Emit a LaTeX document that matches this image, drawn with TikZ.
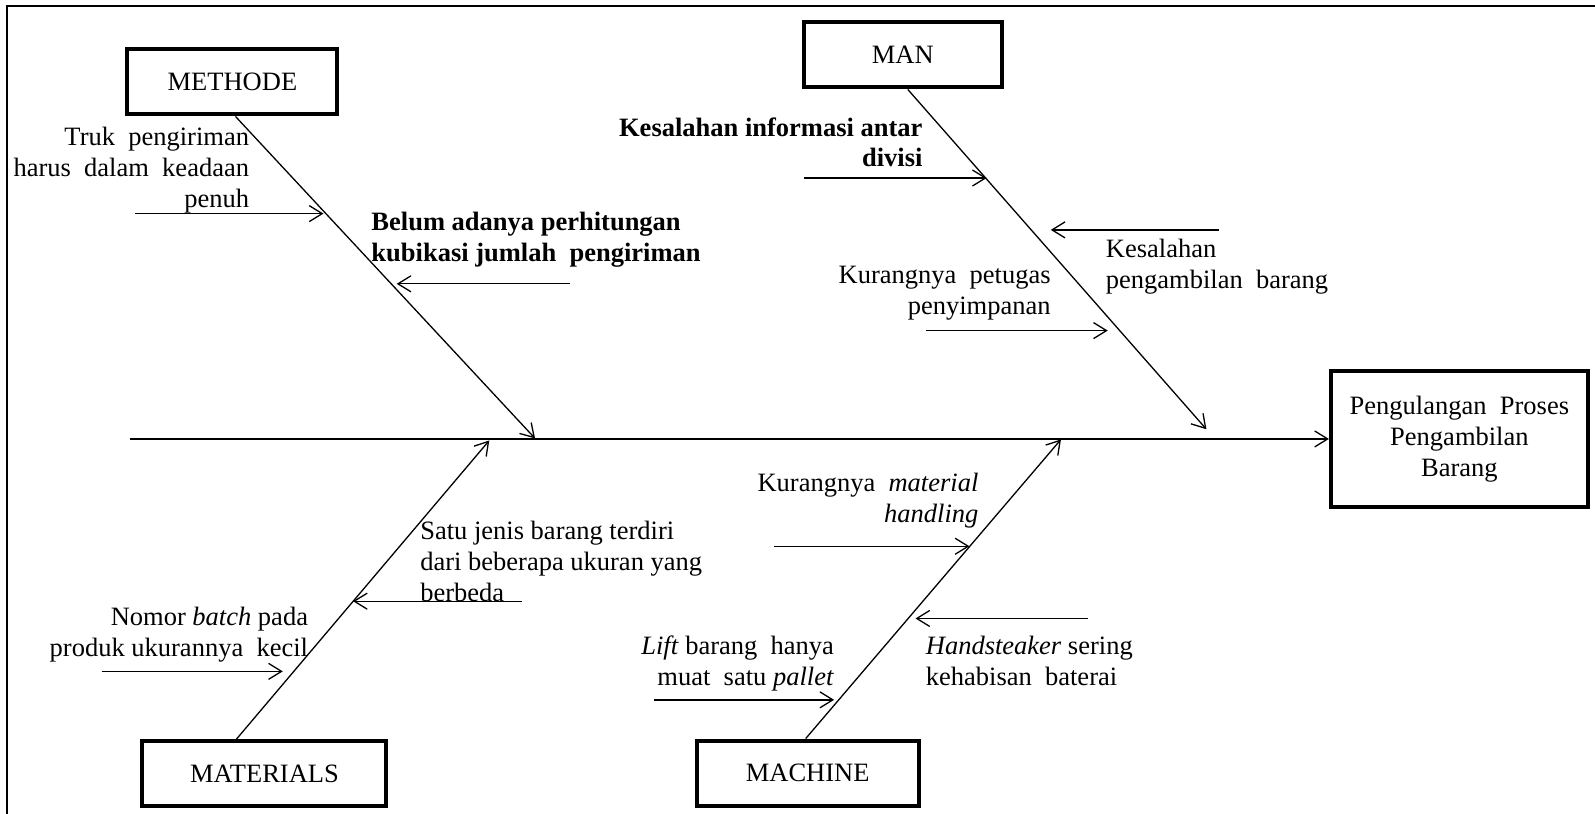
\documentclass[tikz,border=0pt]{standalone}
\usepackage{fontspec}
\setmainfont{Liberation Serif}
\usetikzlibrary{arrows.meta}
\begin{document}
\begin{tikzpicture}[x=1.0172pt,y=-1.0172pt,
  every node/.style={font=\fontsize{26.5}{31}\selectfont},
  catbox/.style={draw, line width=4pt, minimum width=#1, minimum height=65pt, inner sep=0pt},
  effbox/.style={draw, line width=4pt, minimum width=257pt, minimum height=136pt, align=center, inner sep=0pt},
  txt/.style={inner sep=0pt},
  boldtxt/.style={inner sep=0pt, font=\fontsize{26.5}{30.5}\selectfont\bfseries},
  bone/.style={line width=1.3pt, -{Straight Barb[length=13pt,width=16pt,line width=1.3pt]}},
  frameline/.style={line width=2.2pt}
]
\useasboundingbox (0,0) rectangle (1568,800);

% outer frame (top and left edges)
\coordinate (fa) at (7,800);
\coordinate (fb) at (7,6);
\coordinate (fc) at (1568,6);
\draw[frameline] (fa) -- (fb) -- (fc);

% category boxes and effect box
\node[catbox=210pt] (met) at (228.5,80.5) {METHODE};
\node[catbox=198pt] (man) at (887.5,54) {MAN};
\node[catbox=244pt] (mat) at (260,760.5) {MATERIALS};
\node[catbox=222pt] (mac) at (794,760) {MACHINE};
\node[effbox] (eff) at (1434.7,431.5) {Pengulangan\ \ Proses\\Pengambilan\\Barang};

% spine
\coordinate (tail) at (128,431.5);
\draw[bone] (tail) -- (eff.west);

% main bones
\coordinate (metT) at (526,431);
\coordinate (manT) at (1186,422);
\coordinate (matT) at (481,433);
\coordinate (macT) at (1043,432);
\draw[bone] ([xshift=3pt]met.south) -- (metT);
\draw[bone] ([xshift=5pt]man.south) -- (manT);
\draw[bone] ([xshift=-28pt]mat.north) -- (matT);
\draw[bone] ([xshift=-2pt]mac.north) -- (macT);

% METHODE causes
\node[txt, align=right, anchor=north east] (t1) at (245,121.7)
  {\strut Truk\ \ pengiriman\\harus\ \ dalam\ \ keadaan\\penuh};
\coordinate (a1s) at (133,210); \coordinate (a1e) at (318,210);
\draw[bone] (a1s) -- (a1e);
\node[boldtxt, align=left, anchor=north west] (t2) at (365,205.7)
  {\strut Belum adanya perhitungan\\kubikasi jumlah\ \ pengiriman};
\coordinate (a2s) at (560,279); \coordinate (a2e) at (390,279);
\draw[bone] (a2s) -- (a2e);

% MAN causes
\node[boldtxt, align=right, anchor=north east] (t3) at (907,112.7)
  {\strut Kesalahan informasi antar\\divisi};
\coordinate (a3s) at (790,175); \coordinate (a3e) at (970,175);
\draw[bone] (a3s) -- (a3e);
\coordinate (a4s) at (1198,226); \coordinate (a4e) at (1033,226);
\draw[bone] (a4s) -- (a4e);
\node[txt, align=left, anchor=north west] (t4) at (1087,231.7)
  {\strut Kesalahan\\pengambilan\ \ barang};
\node[txt, align=right, anchor=north east] (t5) at (1033,256.7)
  {\strut Kurangnya\ \ petugas\\penyimpanan};
\coordinate (a5s) at (910,325); \coordinate (a5e) at (1089,325);
\draw[bone] (a5s) -- (a5e);

% MATERIALS causes
\node[txt, align=left, anchor=north west] (t6) at (413,508.7)
  {\strut Satu jenis barang terdiri\\dari beberapa ukuran yang\\berbeda};
\coordinate (a6s) at (513,591); \coordinate (a6e) at (347,591);
\draw[bone] (a6s) -- (a6e);
\node[txt, align=right, anchor=north east] (t7) at (303,593.7)
  {\strut Nomor \textit{batch} pada\\produk ukurannya\ \ kecil};
\coordinate (a7s) at (100,660); \coordinate (a7e) at (278,660);
\draw[bone] (a7s) -- (a7e);

% MACHINE causes
\node[txt, align=right, anchor=north east] (t8) at (962,461.7)
  {\strut Kurangnya\ \ \textit{material}\\\textit{handling}};
\coordinate (a8s) at (761,537); \coordinate (a8e) at (953,537);
\draw[bone] (a8s) -- (a8e);
\coordinate (a9s) at (1070,608); \coordinate (a9e) at (900,608);
\draw[bone] (a9s) -- (a9e);
\node[txt, align=left, anchor=north west] (t9) at (910,621.7)
  {\strut\textit{Handsteaker} sering\\kehabisan\ \ baterai};
\node[txt, align=right, anchor=north east] (t10) at (820,621.7)
  {\strut\textit{Lift} barang\ \ hanya\\muat\ \ satu \textit{pallet}};
\coordinate (a10s) at (643,688); \coordinate (a10e) at (820,688);
\draw[bone] (a10s) -- (a10e);
\end{tikzpicture}
\end{document}
